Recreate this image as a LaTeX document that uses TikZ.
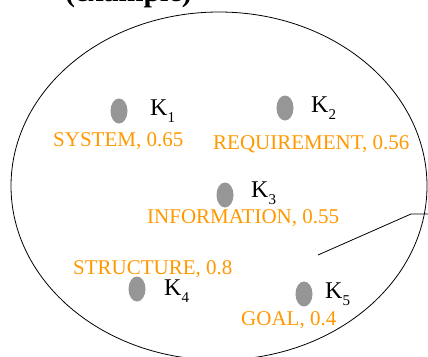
\documentclass[tikz,border=0pt]{standalone}
\usepackage{fontspec}
\setmainfont{Liberation Serif}
\usetikzlibrary{shapes.geometric}
\definecolor{kworange}{RGB}{255,153,0}
\definecolor{kwgray}{RGB}{150,150,150}
% keyword name with a lowered index set in the text font
\newcommand{\kwsub}[1]{K\raisebox{-7.5pt}{\fontsize{15}{15}\selectfont #1}}
\tikzset{
  kwdot/.style={ellipse, fill=kwgray, draw=none, minimum width=17pt, minimum height=25pt, inner sep=0pt},
  kwname/.style={anchor=base west, inner sep=0pt, font=\fontsize{24}{24}\selectfont, text=black},
  kwlabel/.style={anchor=base west, inner sep=0pt, font=\fontsize{21}{21}\selectfont, text=kworange},
  outline/.style={draw=black, line width=0.8pt}
}
\begin{document}
\begin{tikzpicture}[x=1pt, y=-1pt]
  \useasboundingbox (0,0) rectangle (428,356);
  \clip (0,0) rectangle (428,356);
  \fill[white] (0,0) rectangle (428,356);

  % heading, running off the top edge
  \node[anchor=base west, inner sep=0pt, font=\fontsize{30}{30}\selectfont\bfseries] (head) at (65,1.5) {(example)};

  % keyword set
  \draw[outline] (219,186) ellipse [x radius=208, y radius=174];

  % keywords with weights
  \node[kwdot] (k1) at (119,111) {};
  \node[kwname] (n1) at (150,115) {\kwsub{1}};
  \node[kwlabel] (l1) at (53,146) {SYSTEM, 0.65};

  \node[kwdot] (k2) at (285,108) {};
  \node[kwname] (n2) at (311,112) {\kwsub{2}};
  \node[kwlabel] (l2) at (213,149) {REQUIREMENT, 0.56};

  \node[kwdot] (k3) at (225,195) {};
  \node[kwname] (n3) at (251,197) {\kwsub{3}};
  \node[kwlabel] (l3) at (147,223) {INFORMATION, 0.55};

  \node[kwlabel] (l4) at (73,274) {STRUCTURE, 0.8};
  \node[kwdot] (k4) at (137,289) {};
  \node[kwname] (n4) at (164,295) {\kwsub{4}};

  \node[kwdot] (k5) at (304,294) {};
  \node[kwname] (n5) at (325,298) {\kwsub{5}};
  \node[kwlabel] (l5) at (241,325.5) {GOAL, 0.4};

  % pointer leaving the set
  \coordinate (p0) at (318,255);
  \coordinate (p1) at (411,214);
  \coordinate (p2) at (430,214);
  \draw[outline] (p0) -- (p1) -- (p2);
\end{tikzpicture}
\end{document}
